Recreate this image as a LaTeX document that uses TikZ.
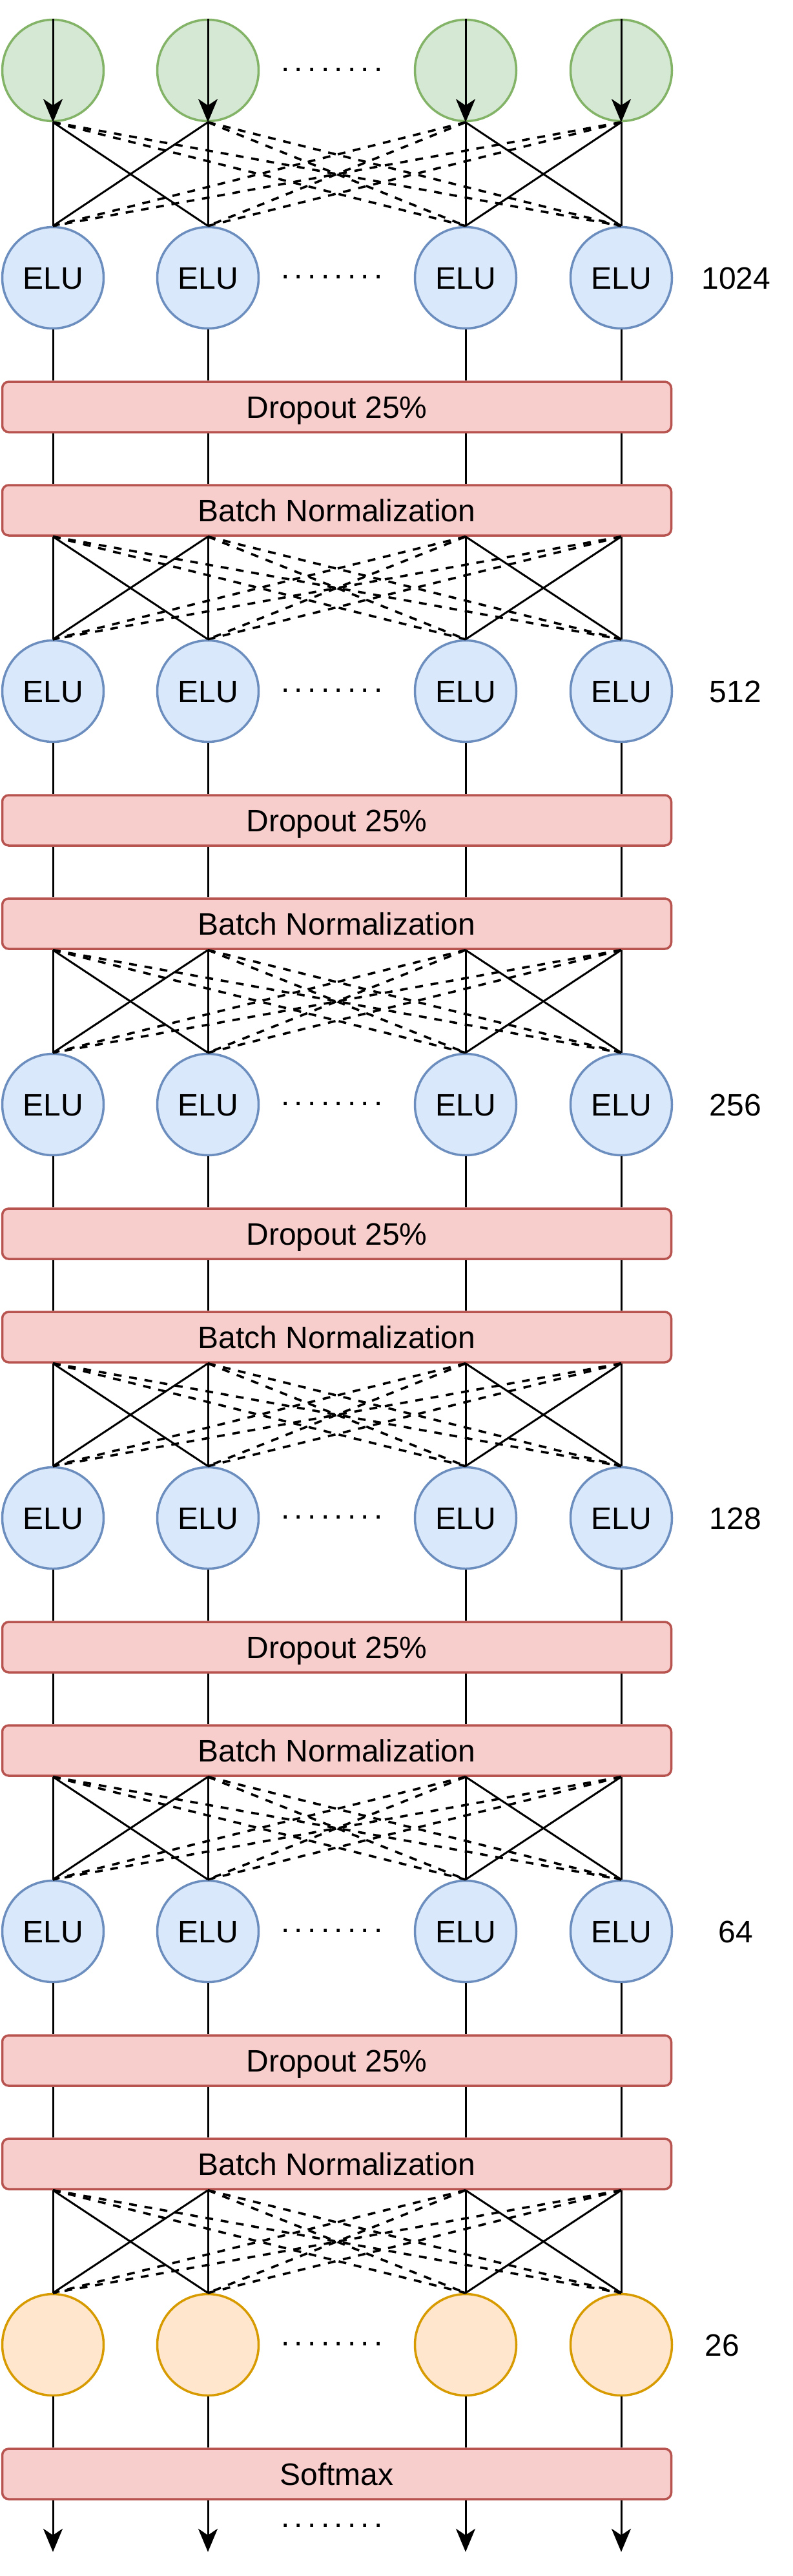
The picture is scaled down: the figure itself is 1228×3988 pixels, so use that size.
\documentclass[tikz,border=0pt]{standalone}
\usepackage{fontspec}
\setmainfont{Liberation Sans}
\usetikzlibrary{arrows.meta,calc}
\definecolor{gfill}{HTML}{D5E8D4}\definecolor{gline}{HTML}{82B366}
\definecolor{bfill}{HTML}{DAE8FC}\definecolor{bline}{HTML}{6C8EBF}
\definecolor{rfill}{HTML}{F8CECC}\definecolor{rline}{HTML}{B85450}
\definecolor{ofill}{HTML}{FFE6CC}\definecolor{oline}{HTML}{D79B00}
\newcommand{\bigfont}{\fontsize{48}{58}\selectfont}
\newcommand{\dotrow}{.\kern7.3pt.\kern7.3pt.\kern7.3pt.\kern7.3pt.\kern7.3pt.\kern7.3pt.\kern7.3pt.}
\begin{document}
\begin{tikzpicture}[x=1pt,y=-1pt,
  neuron/.style={circle, minimum size=157pt, inner sep=0pt, line width=3.5pt},
  inneuron/.style={neuron, draw=gline, fill=gfill},
  eluneuron/.style={neuron, draw=bline, fill=bfill, font=\bigfont, text height=34pt, text depth=0pt},
  outneuron/.style={neuron, draw=oline, fill=ofill},
  layerbox/.style={draw=rline, fill=rfill, line width=3.5pt, rounded corners=10pt,
    minimum width=1036pt, minimum height=78pt, inner sep=0pt, font=\bigfont,
    text height=34pt, text depth=0pt},
  lbl/.style={font=\bigfont, text height=34pt, text depth=0pt, inner sep=0pt},
  dotlbl/.style={font=\bigfont, inner sep=0pt, anchor=base},
  conn/.style={line width=3pt},
  dconn/.style={line width=3.6pt, dash pattern=on 12pt off 12pt},
  arr/.style={line width=3pt, -{Stealth[length=36pt,width=30pt,inset=10pt]}}
]
\useasboundingbox (0,0) rectangle (1228,3988);

% neurons
\foreach \c/\x in {1/82,2/322,3/721,4/962} {
  \node[inneuron] (n0-\c) at (\x,109) {};
  \foreach \k in {1,...,5} {
    \node[eluneuron] (n\k-\c) at (\x,{430+(\k-1)*640}) {ELU};
  }
  \node[outneuron] (n6-\c) at (\x,3630) {};
}

% boxes
\foreach \k in {1,...,5} {
  \node[layerbox] (do\k) at (521.5,{630+(\k-1)*640}) {Dropout 25\%};
  \node[layerbox] (bn\k) at (521.5,{790+(\k-1)*640}) {Batch Normalization};
}
\node[layerbox] (sm) at (521.5,3830) {Softmax};

% layer size labels
\node[lbl] (sz1) at (1140,430) {1024};
\node[lbl] (sz2) at (1139,1070) {512};
\node[lbl] (sz3) at (1139,1710) {256};
\node[lbl] (sz4) at (1139,2350) {128};
\node[lbl] (sz5) at (1139,2990) {64};
\node[lbl] (sz6) at (1118,3630) {26};

% ellipsis dots
\node[dotlbl] (dt0) at (514,110.5) {\dotrow};
\foreach \k in {1,...,5} {
  \node[dotlbl] (dt\k) at (514,{431.5+(\k-1)*640}) {\dotrow};
}
\node[dotlbl] (dt6) at (514,3631.5) {\dotrow};
\node[dotlbl] (dt7) at (514,3912) {\dotrow};

% source points for dense connections
\foreach \i in {1,...,4} {
  \coordinate (s0-\i) at (n0-\i.south);
  \foreach \k in {1,...,5} {
    \coordinate (s\k-\i) at (bn\k.south -| n\k-\i);
  }
}

% dense connections
\foreach \k in {0,...,5} {
  \pgfmathtruncatemacro\nk{\k+1}
  \foreach \i in {1,...,4} {
    \foreach \j in {1,...,4} {
      \pgfmathtruncatemacro\gi{(\i-1)/2}
      \pgfmathtruncatemacro\gj{(\j-1)/2}
      \ifnum\gi=\gj
        \draw[conn] (s\k-\i) -- (n\nk-\j.north);
      \else
        \draw[dconn] (s\k-\i) -- (n\nk-\j.north);
      \fi
    }
  }
}

% vertical connections through boxes
\foreach \i in {1,...,4} {
  \draw[arr] (n0-\i.north) -- (n0-\i.south);
  \foreach \k in {1,...,5} {
    \draw[conn] (n\k-\i.south) -- (do\k.north -| n\k-\i);
    \draw[conn] (do\k.south -| n\k-\i) -- (bn\k.north -| n\k-\i);
  }
  \draw[conn] (n6-\i.south) -- (sm.north -| n6-\i);
  \coordinate (o\i) at ($(sm.south -| n6-\i)+(0,80)$);
  \draw[arr] (sm.south -| n6-\i) -- (o\i);
}
\end{tikzpicture}
\end{document}
